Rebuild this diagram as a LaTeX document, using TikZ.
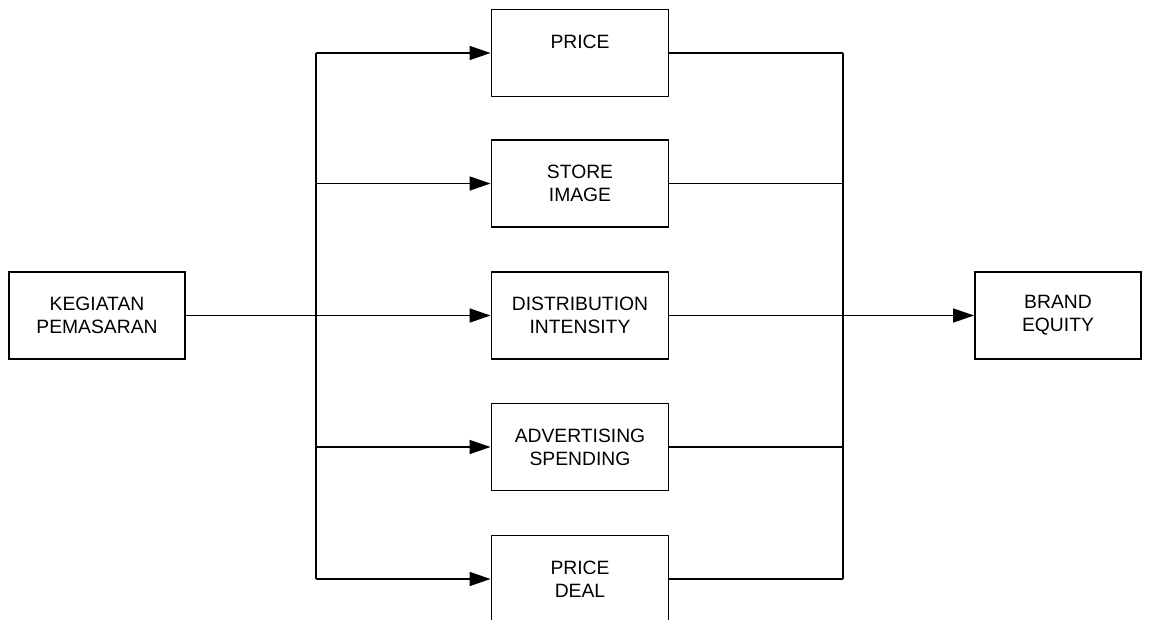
\documentclass[tikz,border=0pt]{standalone}
\usepackage{fontspec}
\setmainfont{Liberation Sans}
\usetikzlibrary{arrows.meta}
\begin{document}
\begin{tikzpicture}[x=1pt,y=-1pt,
  box/.style={draw,line width=1.9pt,align=center,inner sep=0pt,
    font=\fontsize{19.3}{23}\selectfont},
  midbox/.style={box,minimum width=177pt,minimum height=87pt},
  conn/.style={line width=1.7pt},
  arr/.style={conn,-{Triangle[length=21pt,width=14pt]}}]
\useasboundingbox (0,0) rectangle (1151,619);
\clip (0,0) rectangle (1151,619);
\node[box,minimum width=176pt,minimum height=87pt] (km) at (97,315.5) {KEGIATAN\\PEMASARAN};
\node[midbox] (p) at (580,53) {PRICE\\\phantom{X}};
\node[midbox] (si) at (580,183.5) {STORE\\IMAGE};
\node[midbox] (di) at (580,315.5) {DISTRIBUTION\\INTENSITY};
\node[midbox] (as) at (580,447) {ADVERTISING\\SPENDING};
\node[midbox] (pd) at (580,579) {PRICE\\DEAL};
\node[box,minimum width=166pt,minimum height=87pt] (be) at (1058,315.5) {BRAND\\EQUITY};
\coordinate (lt) at (316,53);
\coordinate (lb) at (316,579);
\coordinate (rt) at (843,53);
\coordinate (rb) at (843,579);
\draw[conn] (lt) -- (lb);
\draw[conn] (rt) -- (rb);
\draw[conn] (km.east) -- (lt |- km.east);
\foreach \b in {p,si,di,as,pd}{
  \draw[arr] (lt |- \b.west) -- (\b.west);
  \draw[conn] (\b.east) -- (rt |- \b.east);
}
\draw[arr] (rt |- be.west) -- (be.west);
\end{tikzpicture}
\end{document}
